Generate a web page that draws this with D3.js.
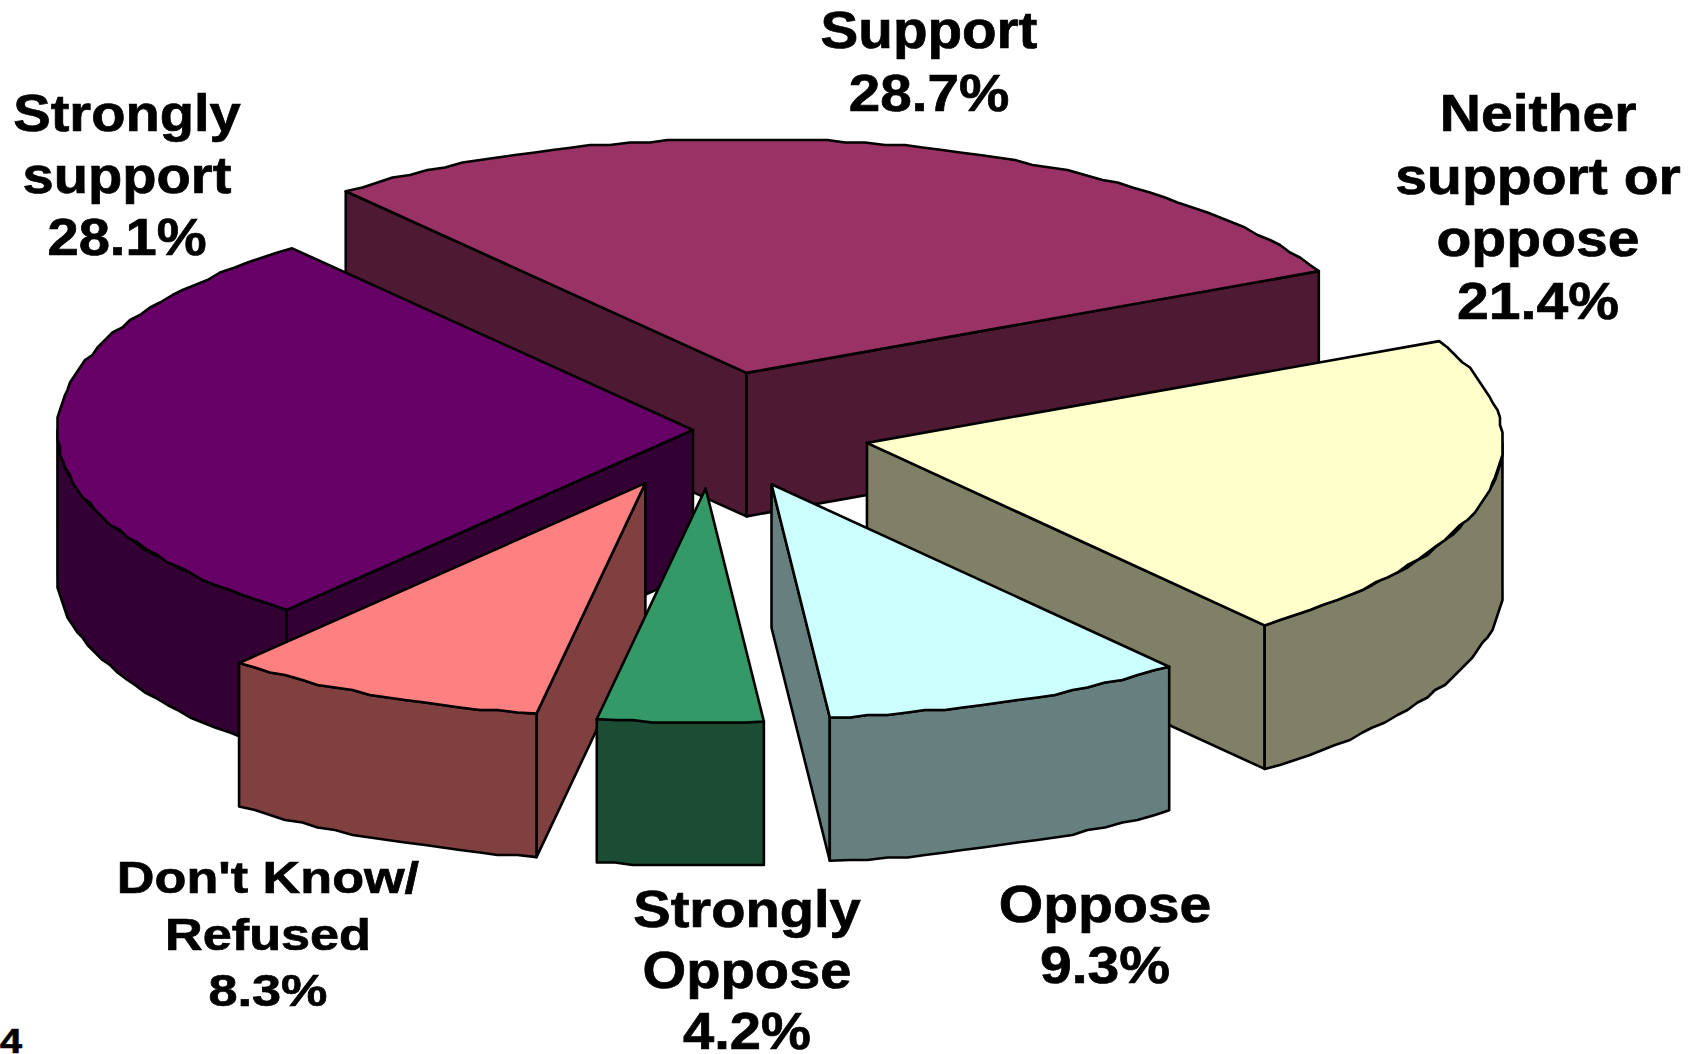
<!DOCTYPE html>
<html>
<head>
<meta charset="utf-8">
<script src="https://cdn.jsdelivr.net/npm/d3@7"></script>
<style>
html,body{margin:0;padding:0;background:#fff;overflow:hidden}
svg{display:block}
text{font-family:"Liberation Sans",Arial,sans-serif;font-weight:700;fill:#000;stroke:#000;stroke-width:0.7px}
</style>
</head>
<body>
<svg id="chart" width="1692" height="1054"></svg>
<script>
// ---- data ----
const categories = ["Support","Neither support or oppose","Oppose","Strongly Oppose","Don't Know/ Refused","Strongly support"];
const values = [28.7,21.4,9.3,4.2,8.3,28.1];
const explodeFractions = [0.25,0.25,0.25,0.25,0.25,0.03];
const topColors = ["#993366","#ffffcc","#ccffff","#339966","#ff8080","#660066"];
const sideColors = ["#4d1933","#808066","#668080","#1a4d33","#804040","#330033"];
const paintOrder = [0,5,1,4,2,3];
const labelLines = [
  ["Support","28.7%"],
  ["Neither","support or","oppose","21.4%"],
  ["Oppose","9.3%"],
  ["Strongly","Oppose","4.2%"],
  ["Don't Know/","Refused","8.3%"],
  ["Strongly","support","28.1%"]
];
// ---- layout ----
const labelCentreX = [929,1538,1105,747,268,127];
const labelFirstBaseline = [48,131,922,927,893,131];
const labelLineStep = [63,62.5,60.5,61,56.5,62];
const labelFontSize = [51,51,51,51,45,51];
const labelStretch = [1.11,1.12,1.12,1.10,1.16,1.10];
const cx=712, cy=430, rx=635.5, ry=234, depth=143.5;
const firstAngle = -39.1*Math.PI/180;
const edgeGrid = 2.5;   // the reference's curved edges are stepped, not smooth

const x = d3.scaleLinear().domain([-1,1]).range([cx-rx,cx+rx]);
const y = d3.scaleLinear().domain([-1,1]).range([cy-ry,cy+ry]);
const svg = d3.select("#chart");

const arcs = d3.pie().sort(null).startAngle(firstAngle).endAngle(firstAngle+2*Math.PI)(values);
const line = d3.line();

function geom(i){
  const a=arcs[i], m=(a.startAngle+a.endAngle)/2, e=explodeFractions[i];
  const ox=e*Math.sin(m), oy=-e*Math.cos(m);
  const pt=(t,r,dz=0)=>[x(ox+r*Math.sin(t)),y(oy-r*Math.cos(t))+dz];
  return {a,pt};
}
function samples(t0,t1){
  const n=Math.max(2,Math.ceil((t1-t0)/(Math.PI/100)));
  return d3.range(n+1).map(k=>t0+(t1-t0)*k/n);
}
// snap inner samples of an arc to a coarse grid; the two end points stay exact
function stepped(pts){
  return pts.map((p,k)=> (k===0||k===pts.length-1) ? p
    : [Math.round(p[0]/edgeGrid)*edgeGrid, Math.round(p[1]/edgeGrid)*edgeGrid]);
}
paintOrder.forEach(i=>{
  const {a,pt}=geom(i);
  const g=svg.append("g").attr("stroke","#000").attr("stroke-width",2.6).attr("stroke-linejoin","round");
  const t0=a.startAngle,t1=a.endAngle;
  const wall=t=>[pt(t,0),pt(t,1),pt(t,1,depth),pt(t,0,depth)];
  if(Math.sin(t0)<0) g.append("path").attr("d",line(wall(t0))+"Z").attr("fill",sideColors[i]);
  if(Math.sin(t1)>0) g.append("path").attr("d",line(wall(t1))+"Z").attr("fill",sideColors[i]);
  const r0=Math.max(t0,Math.PI/2), r1=Math.min(t1,3*Math.PI/2);
  if(r1>r0){
    const ts=samples(r0,r1);
    const pts=stepped(ts.map(t=>pt(t,1))).concat(stepped(ts.slice().reverse().map(t=>pt(t,1,depth))));
    g.append("path").attr("d",line(pts)+"Z").attr("fill",sideColors[i]);
  }
  const top=[pt(0,0)].concat(stepped(samples(t0,t1).map(t=>pt(t,1))));
  g.append("path").attr("d",line(top)+"Z").attr("fill",topColors[i]);
});

labelLines.forEach((lines,i)=>{
  lines.forEach((s,k)=>{
    svg.append("text")
      .attr("text-anchor","middle")
      .attr("font-size",labelFontSize[i])
      .attr("transform",`translate(${labelCentreX[i]},${labelFirstBaseline[i]+k*labelLineStep[i]}) scale(${labelStretch[i]},1)`)
      .text(s);
  });
});
svg.append("text").attr("font-size",36).attr("transform","translate(0,1053) scale(1.1,1)").text("4");
</script>
</body>
</html>
